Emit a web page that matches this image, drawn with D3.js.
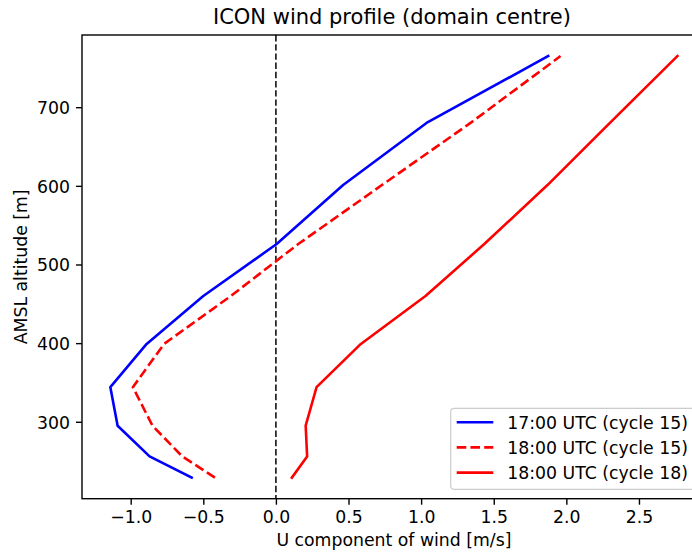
<!DOCTYPE html>
<html>
<head>
<meta charset="utf-8">
<script src="https://cdn.jsdelivr.net/npm/d3@7"></script>
<style>
  html, body { margin: 0; padding: 0; background: #fff; }
  svg { display: block; }
  text { font-family: "DejaVu Sans", sans-serif; fill: #000; }
</style>
</head>
<body>
<div id="chart"></div>
<script>
// ---- data ----
const altitudes = [229, 256, 295, 344, 399, 460, 526, 601, 680, 765];
const u17c15 = [-0.58, -0.87, -1.09, -1.14, -0.89, -0.50, 0.005, 0.463, 1.037, 1.875];
const u18c15 = [-0.42, -0.645, -0.85, -0.985, -0.77, -0.31, 0.154, 0.73, 1.34, 1.96];
const u18c18 = [0.11, 0.215, 0.205, 0.28, 0.585, 1.03, 1.435, 1.87, 2.30, 2.765];
const seriesNames = ["17:00 UTC (cycle 15)", "18:00 UTC (cycle 15)", "18:00 UTC (cycle 18)"];
const xTicks = [-1.0, -0.5, 0.0, 0.5, 1.0, 1.5, 2.0, 2.5];
const yTicks = [300, 400, 500, 600, 700];
const chartTitle = "ICON wind profile (domain centre)";
const xLabel = "U component of wind [m/s]";
const yLabel = "AMSL altitude [m]";

(function () {
const series = [
  { name: seriesNames[0], values: u17c15, color: "#0000ff", dash: null },
  { name: seriesNames[1], values: u18c15, color: "#ff0000", dash: "9.6,4.15" },
  { name: seriesNames[2], values: u18c18, color: "#ff0000", dash: null }
];

// ---- layout ----
const W = 692, H = 553;
const mL = 82, mR = 705.8, mT = 35, mB = 498.7;
const fs = 17.3;

const allU = u17c15.concat(u18c15, u18c18);
const uMin = d3.min(allU), uMax = d3.max(allU);
const uPad = (uMax - uMin) * 0.05;
const aMin = d3.min(altitudes), aMax = d3.max(altitudes);
const aPad = (aMax - aMin) * 0.05;

const x = d3.scaleLinear().domain([uMin - uPad, uMax + uPad]).range([mL, mR]);
const y = d3.scaleLinear().domain([aMin - aPad, aMax + aPad]).range([mB, mT]);

const svg = d3.select("#chart").append("svg")
  .attr("width", W).attr("height", H)
  .attr("viewBox", `0 0 ${W} ${H}`);

svg.append("rect").attr("width", W).attr("height", H).attr("fill", "#fff");

svg.append("defs").append("clipPath").attr("id", "plotclip")
  .append("rect").attr("x", mL).attr("y", mT)
  .attr("width", mR - mL).attr("height", mB - mT);

const plot = svg.append("g").attr("clip-path", "url(#plotclip)");

// zero line
plot.append("line")
  .attr("x1", x(0)).attr("x2", x(0))
  .attr("y1", mT).attr("y2", mB)
  .attr("stroke", "#000").attr("stroke-width", 1.5)
  .attr("stroke-dasharray", "6.4,2.8");

const line = d3.line()
  .x(d => x(d[0]))
  .y(d => y(d[1]));

series.forEach(s => {
  const pts = s.values.map((v, i) => [v, altitudes[i]]);
  const p = plot.append("path")
    .attr("d", line(pts))
    .attr("fill", "none")
    .attr("stroke", s.color)
    .attr("stroke-width", 2.6)
    .attr("stroke-linejoin", "round")
    .attr("stroke-linecap", s.dash ? "butt" : "square");
  if (s.dash) p.attr("stroke-dasharray", s.dash);
});

// axes
const fmtX = d => d3.format(".1f")(d).replace("-", "\u2212");
const xAxis = d3.axisBottom(x).tickValues(xTicks).tickFormat(fmtX)
  .tickSize(6).tickPadding(6);
const yAxis = d3.axisLeft(y).tickValues(yTicks).tickFormat(d3.format("d"))
  .tickSize(6).tickPadding(6);

const gx = svg.append("g").attr("transform", `translate(0,${mB})`).call(xAxis);
const gy = svg.append("g").attr("transform", `translate(${mL},0)`).call(yAxis);
[gx, gy].forEach(g => {
  g.select(".domain").remove();
  g.selectAll(".tick line").attr("stroke", "#000").attr("stroke-width", 1.4);
  g.selectAll(".tick text").attr("font-size", fs).attr("font-family", "DejaVu Sans").attr("fill", "#000");
});
gx.selectAll(".tick text").attr("dy", "0.71em");
gy.selectAll(".tick text").attr("dy", "0.36em");

// spines
svg.append("rect")
  .attr("x", mL).attr("y", mT)
  .attr("width", mR - mL).attr("height", mB - mT)
  .attr("fill", "none").attr("stroke", "#000").attr("stroke-width", 1.4);

// title & labels
svg.append("text")
  .attr("x", (mL + mR) / 2 - 2).attr("y", 24.3)
  .attr("text-anchor", "middle")
  .attr("font-size", 21.0)
  .text(chartTitle);

svg.append("text")
  .attr("x", (mL + mR) / 2).attr("y", 545.5)
  .attr("text-anchor", "middle")
  .attr("font-size", fs)
  .text(xLabel);

svg.append("text")
  .attr("transform", `translate(27,${(mT + mB) / 2}) rotate(-90)`)
  .attr("text-anchor", "middle")
  .attr("font-size", fs)
  .text(yLabel);

// legend
const lg = svg.append("g");
lg.append("rect")
  .attr("x", 450.7).attr("y", 408.3)
  .attr("width", 248).attr("height", 81)
  .attr("rx", 3.5).attr("ry", 3.5)
  .attr("fill", "#fff").attr("fill-opacity", 0.8)
  .attr("stroke", "#cccccc").attr("stroke-width", 1.2);

const rowY = [422.3, 447.4, 472.6];
series.forEach((s, i) => {
  const l = lg.append("line")
    .attr("x1", 456.7).attr("x2", 493.3)
    .attr("y1", rowY[i]).attr("y2", rowY[i])
    .attr("stroke", s.color).attr("stroke-width", 2.6);
  if (s.dash) l.attr("stroke-dasharray", s.dash);
  lg.append("text")
    .attr("x", 507.3).attr("y", rowY[i])
    .attr("dy", "0.36em")
    .attr("font-size", fs)
    .text(s.name);
});
})();
</script>
</body>
</html>
